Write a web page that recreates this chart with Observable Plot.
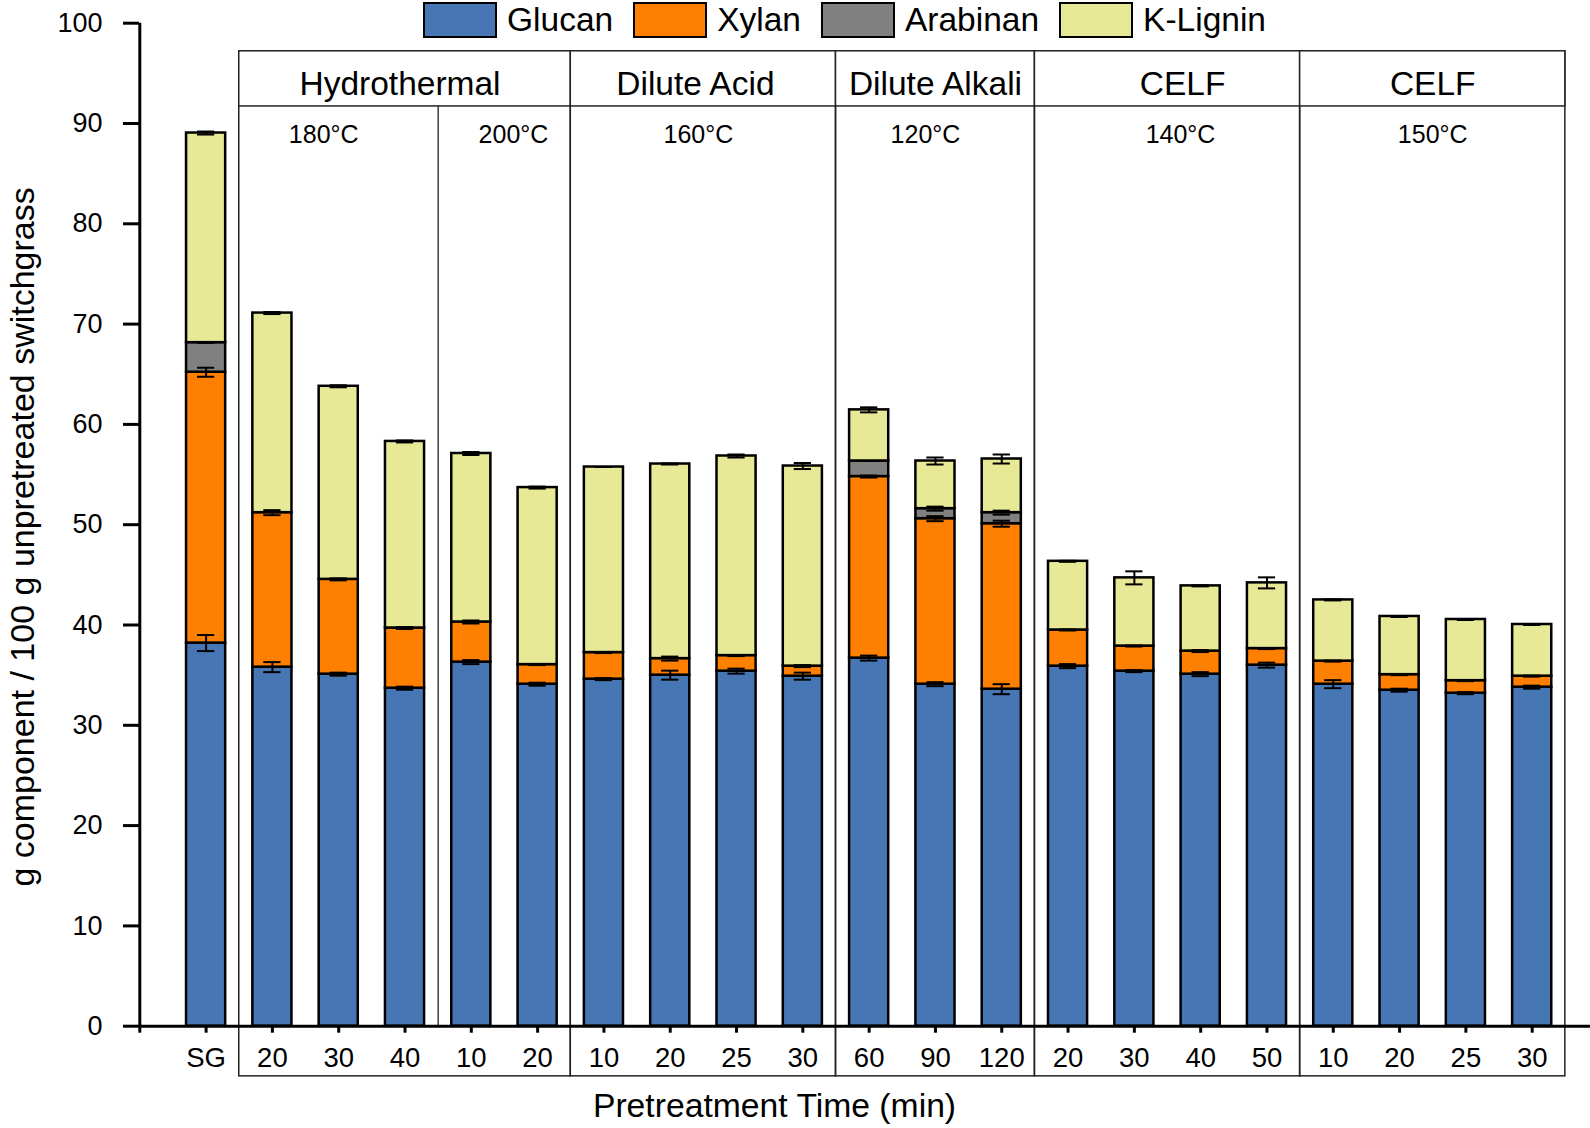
<!DOCTYPE html>
<html>
<head>
<meta charset="utf-8">
<script src="https://cdn.jsdelivr.net/npm/d3@7"></script>
<script src="https://cdn.jsdelivr.net/npm/@observablehq/plot@0.6"></script>
<style>
  body { margin: 0; background: #fff; }
  #wrap { position: relative; width: 1590px; height: 1128px; font-family: "Liberation Sans", Arial, sans-serif; }
  #legend { position: absolute; left: 423px; top: 2px; display: flex; align-items: center; height: 36px; font-size: 33.5px; color: #000; }
  #legend .sw { width: 70px; height: 32px; border: 2px solid #000; margin-right: 10px; }
  #legend .lb { margin-right: 20px; line-height: 36px; }
</style>
</head>
<body>
<div id="wrap"><div id="legend"></div></div>
<script>
// ---- data ----
const categories = ["SG","20","30","40","10","20","10","20","25","30","60","90","120","20","30","40","50","10","20","25","30"];
const components = ["Glucan","Xylan","Arabinan","K-Lignin"];
const colors = ["#4677b4","#ff8000","#808080","#e8e996"];

const glucan   = [38.2, 35.8, 35.1, 33.7, 36.3, 34.1, 34.6, 35.0, 35.4, 34.9, 36.7, 34.1, 33.6, 35.9, 35.4, 35.1, 36.0, 34.1, 33.5, 33.2, 33.8];
const xylan    = [27.0, 15.4, 9.45, 6.0, 4.0, 1.95, 2.65, 1.65, 1.55, 1.0, 18.1, 16.5, 16.5, 3.6, 2.5, 2.3, 1.65, 2.3, 1.55, 1.25, 1.1];
const arabinan = [2.95, 0, 0, 0, 0, 0, 0, 0, 0, 0, 1.55, 1.0, 1.1, 0, 0, 0, 0, 0, 0, 0, 0];
const lignin   = [20.9, 19.9, 19.25, 18.6, 16.8, 17.65, 18.5, 19.4, 19.9, 19.95, 5.1, 4.75, 5.35, 6.85, 6.8, 6.5, 6.55, 6.1, 5.8, 6.1, 5.15];

const glucanErr   = [0.8, 0.5, 0.15, 0.15, 0.2, 0.15, 0.1, 0.45, 0.25, 0.35, 0.25, 0.2, 0.5, 0.2, 0.1, 0.2, 0.25, 0.4, 0.15, 0.1, 0.15];
const xylanErr    = [0.45, 0.25, 0.1, 0.1, 0.15, 0.05, 0.05, 0.2, 0.05, 0.1, 0.1, 0.25, 0.3, 0.05, 0.05, 0.1, 0.05, 0.05, 0.05, 0.05, 0.05];
const arabinanErr = [0, 0, 0, 0, 0, 0, 0, 0, 0, 0, 0, 0.2, 0.2, 0, 0, 0, 0, 0, 0, 0, 0];
const ligninErr   = [0.15, 0.1, 0.1, 0.1, 0.15, 0.1, 0, 0.05, 0.15, 0.3, 0.25, 0.35, 0.45, 0.05, 0.65, 0.05, 0.55, 0.05, 0.05, 0.05, 0.05];

const groupNames = ["Hydrothermal","Dilute Acid","Dilute Alkali","CELF","CELF"];
const groupSizes = [5, 4, 3, 4, 4];
const tempLabels = ["180°C","200°C","160°C","120°C","140°C","150°C"];
const tempSizes  = [3, 2, 4, 3, 4, 4];
const yTicks = [0,10,20,30,40,50,60,70,80,90,100];

// ---- build tables ----
const series = [glucan, xylan, arabinan, lignin];
const errs = [glucanErr, xylanErr, arabinanErr, ligninErr];
const rows = [];
categories.forEach((c, j) => {
  let cum = 0;
  series.forEach((s, k) => {
    const v = s[j];
    rows.push({i: j + 1, comp: components[k], y1: cum, y2: cum + v, err: errs[k][j]});
    cum += v;
  });
});
const segs = rows.filter(d => d.y2 > d.y1);

function spans(names, sizes, start) {
  let s = start;
  return names.map((n, k) => { const a = s; s += sizes[k]; return {name: n, k, x1: a - 0.5, x2: s - 0.5}; });
}
const groupSpans = spans(groupNames, groupSizes, 2);
const tempSpans = spans(tempLabels, tempSizes, 2);
const groupEdges = new Set(groupSpans.flatMap(g => [g.x1, g.x2]));
const tempDividers = tempSpans.map(t => t.x2).filter(x => !groupEdges.has(x));

// ---- layout constants (pixels / value-space positions of the annotation frame) ----
const HW = 0.295, CAP = 0.13;
const HEADER_TOP = 97.2, HEADER_MID = 91.7, LABEL_BOTTOM = -5.0;
const HEADER_BASE = 92.8, TEMP_BASE = 88.05;
const headerNudge = [-5, -8, 0, 15, 0];
const tempNudge = [-15, 9, -5, -10, 13, 0];
const frameColor = "#222";

// ---- legend ----
const lg = d3.select("#legend");
components.forEach((c, k) => {
  lg.append("div").attr("class", "sw").style("background", colors[k]);
  lg.append("div").attr("class", "lb").text(c);
});

// ---- chart ----
const chart = Plot.plot({
  width: 1590,
  height: 1128,
  marginLeft: 139,
  marginRight: 0,
  marginTop: 22.7,
  marginBottom: 102.3,
  style: {fontFamily: "'Liberation Sans', Arial, sans-serif", fontSize: "27px", color: "#000", background: "transparent"},
  x: {type: "linear", domain: [0, 22], range: [139.3, 1598], axis: null},
  y: {domain: [0, 100], axis: null},
  color: {domain: components, range: colors},
  marks: [
    // panel frames
    Plot.rect(groupSpans, {x1: "x1", x2: "x2", y1: LABEL_BOTTOM, y2: HEADER_TOP, fill: "none", stroke: frameColor, strokeWidth: 1.5}),
    Plot.rect(groupSpans, {x1: "x1", x2: "x2", y1: HEADER_MID, y2: HEADER_TOP, fill: "white", stroke: frameColor, strokeWidth: 1.5}),
    Plot.ruleX(tempDividers, {x: d => d, y1: 0, y2: HEADER_MID, stroke: frameColor, strokeWidth: 1.3}),
    ...groupSpans.map(g => Plot.text([g], {x: d => (d.x1 + d.x2) / 2, y: HEADER_BASE, text: "name", lineAnchor: "bottom", textAnchor: "middle", dx: headerNudge[g.k], fontSize: 33.5, fill: "#000"})),
    ...tempSpans.map(t => Plot.text([t], {x: d => (d.x1 + d.x2) / 2, y: TEMP_BASE, text: "name", lineAnchor: "bottom", textAnchor: "middle", dx: tempNudge[t.k], fontSize: 25, fill: "#000"})),
    // bars
    Plot.rect(segs, {x1: d => d.i - HW, x2: d => d.i + HW, y1: "y1", y2: "y2", fill: "comp", stroke: "#000", strokeWidth: 2.5}),
    // error bars
    Plot.ruleX(segs, {x: "i", y1: d => d.y2 - d.err, y2: d => d.y2 + d.err, stroke: "#000", strokeWidth: 2}),
    Plot.ruleY(segs, {y: d => d.y2 + d.err, x1: d => d.i - CAP, x2: d => d.i + CAP, stroke: "#000", strokeWidth: 2}),
    Plot.ruleY(segs, {y: d => d.y2 - d.err, x1: d => d.i - CAP, x2: d => d.i + CAP, stroke: "#000", strokeWidth: 2}),
    // axes
    Plot.axisY({ticks: yTicks, tickSize: 16, tickPadding: 21, fontSize: 27, strokeWidth: 3, label: null}),
    Plot.axisX({ticks: d3.range(0, categories.length + 1), tickFormat: i => i === 0 ? "" : categories[i - 1], tickSize: 7, tickPadding: 14, fontSize: 27.5, strokeWidth: 3, label: null}),
    Plot.ruleY([0], {stroke: "#000", strokeWidth: 3}),
    Plot.ruleX([0], {y1: 0, y2: 100, stroke: "#000", strokeWidth: 3}),
    // axis titles
    Plot.text(["Pretreatment Time (min)"], {frameAnchor: "bottom-left", textAnchor: "middle", dx: 635, dy: 90.8, lineAnchor: "bottom", fontSize: 33.7, fill: "#000"}),
    Plot.text(["g component / 100 g unpretreated switchgrass"], {frameAnchor: "left", textAnchor: "middle", rotate: -90, dx: -105.5, dy: 12.2, lineAnchor: "bottom", fontSize: 34, fill: "#000"})
  ]
});
document.getElementById("wrap").insertBefore(chart, document.getElementById("legend"));
chart.style.position = "absolute";
chart.style.left = "0";
chart.style.top = "0";
</script>
</body>
</html>
